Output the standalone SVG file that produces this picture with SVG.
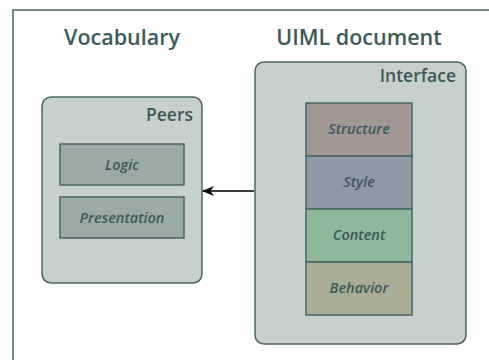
<svg xmlns="http://www.w3.org/2000/svg" width="489" height="360" viewBox="0 0 489 360">
<defs>
<style>
.frame{fill:#ffffff;stroke:#4a6464;stroke-width:1.5}
.cont{fill:#c6d0cc;stroke:#4a6464;stroke-width:1.5}
.inner{stroke:#4a6464;stroke-width:1.5}
.title{font-family:"Open Sans","DejaVu Sans",sans-serif;font-weight:600;font-size:21.5px;fill:#3d5a5a;text-anchor:middle}
.lbl{font-family:"Open Sans","DejaVu Sans",sans-serif;font-weight:600;font-size:17.5px;fill:#3d5a5a;text-anchor:end}
.it{font-family:"Open Sans","DejaVu Sans",sans-serif;font-style:italic;font-weight:600;font-size:14.5px;fill:#3d5a5a;text-anchor:middle}
</style>
<marker id="ah" markerWidth="12" markerHeight="10" refX="11" refY="5" orient="auto" markerUnits="userSpaceOnUse">
<path d="M0,0 L12,5 L0,10 L3.5,5 Z" fill="#000"/>
</marker>
</defs>
<rect class="frame" x="13" y="10" width="500" height="380"/>
<text class="title" x="122" y="45">Vocabulary</text>
<text class="title" x="359" y="45">UIML document</text>
<g id="interface">
<rect class="cont" x="255" y="62" width="211" height="282" rx="9"/>
<text class="lbl" x="456" y="82">Interface</text>
</g>
<g id="structure"><rect class="inner" x="306" y="103" width="106" height="53" fill="#a39794"/><text class="it" x="359" y="134">Structure</text></g>
<g id="style"><rect class="inner" x="306" y="156" width="106" height="53" fill="#8e99a6"/><text class="it" x="359" y="187">Style</text></g>
<g id="content"><rect class="inner" x="306" y="209" width="106" height="53" fill="#8fb89a"/><text class="it" x="359" y="240">Content</text></g>
<g id="behavior"><rect class="inner" x="306" y="262" width="106" height="53" fill="#a8ad94"/><text class="it" x="359" y="293">Behavior</text></g>
<g id="peers">
<rect class="cont" x="42" y="97" width="160" height="186" rx="9"/>
<text class="lbl" x="193" y="121">Peers</text>
</g>
<g id="logic"><rect class="inner" x="60" y="144" width="124" height="41" fill="#9aaaa6"/><text class="it" x="122" y="170">Logic</text></g>
<g id="presentation"><rect class="inner" x="60" y="197" width="124" height="41" fill="#9aaaa6"/><text class="it" x="122" y="223">Presentation</text></g>
<g id="connectors">
<line x1="254" y1="191" x2="203" y2="191" stroke="#000" stroke-width="1.5" marker-end="url(#ah)"/>
</g>
</svg>
